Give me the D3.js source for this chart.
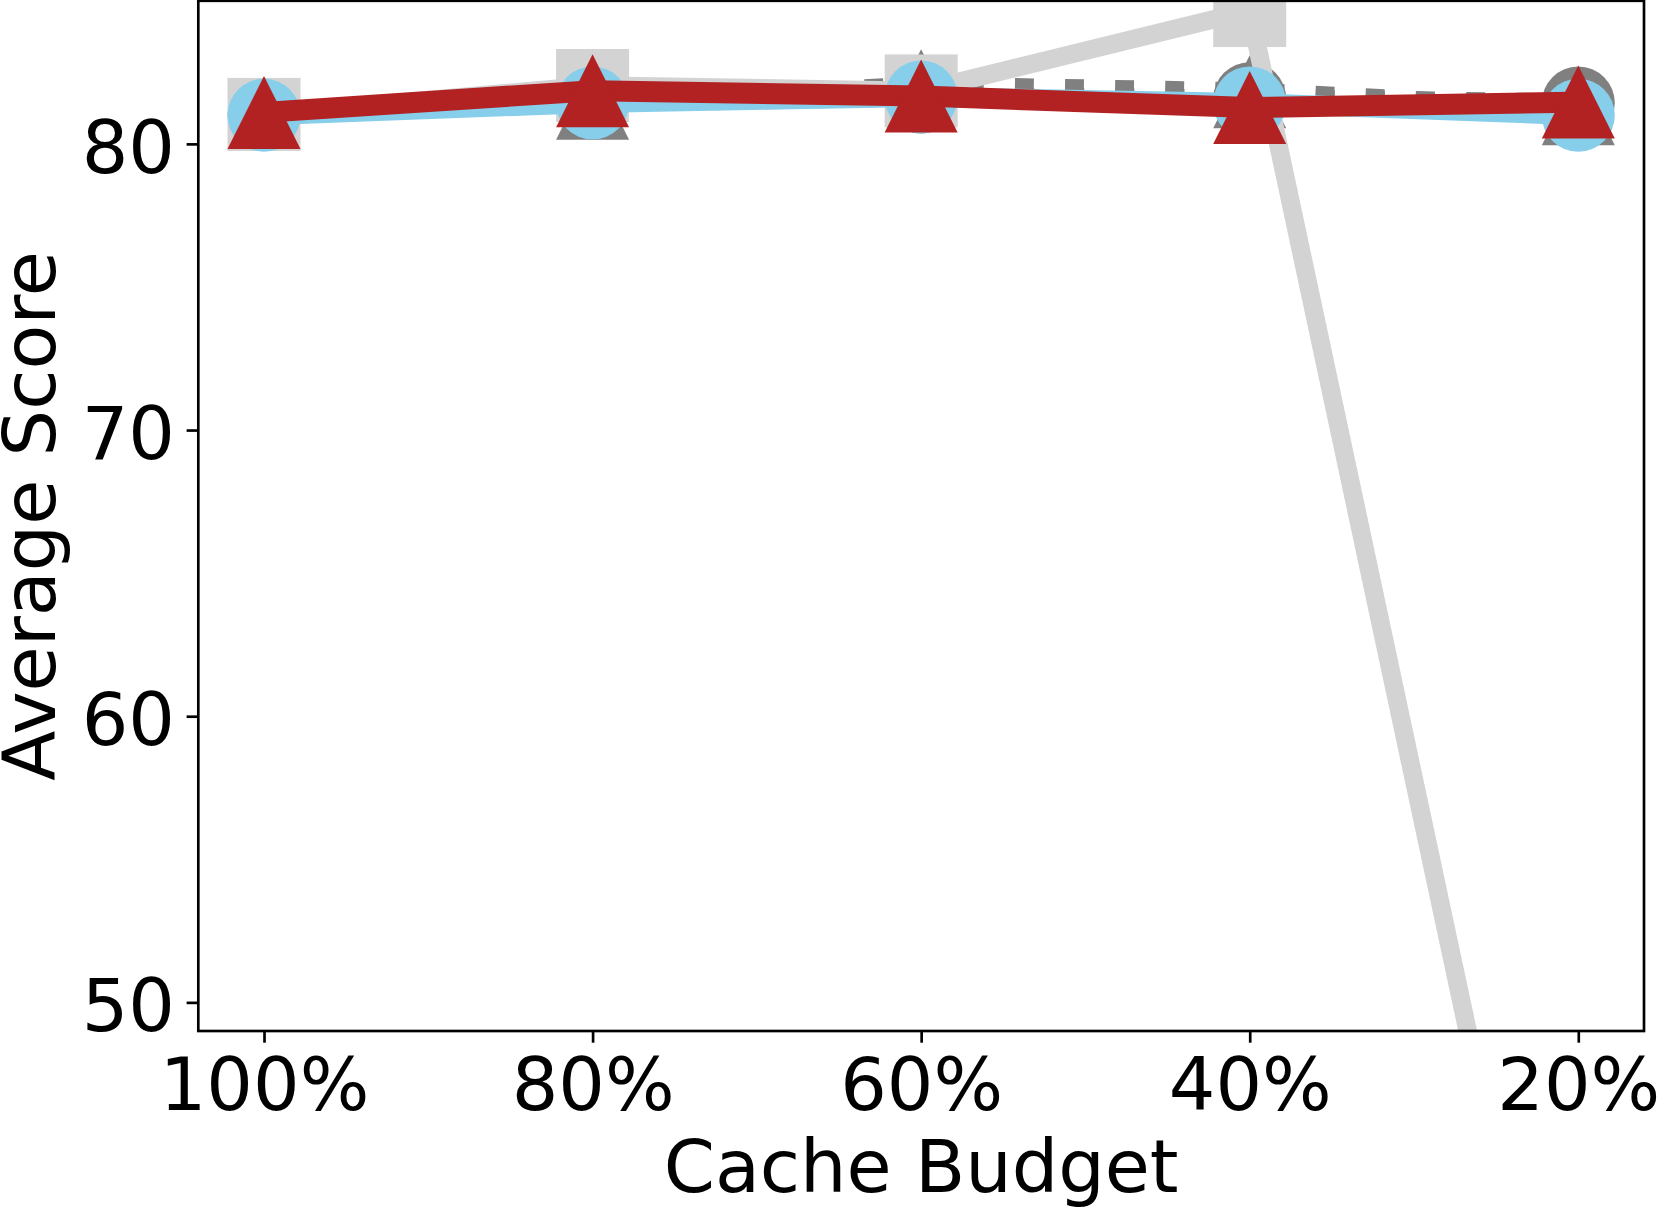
<!DOCTYPE html>
<html>
<head>
<meta charset="utf-8">
<script src="https://cdn.jsdelivr.net/npm/d3@7"></script>
<style>
  html, body { margin: 0; padding: 0; background: #ffffff; }
  svg { display: block; }
  text { font-family: "DejaVu Sans", sans-serif; fill: #000; }
</style>
</head>
<body>
<svg id="chart" width="1659" height="1207"></svg>
<script>
// ---- data ----
const budgets = ["100%", "80%", "60%", "40%", "20%"];
const yTickValues = [50, 60, 70, 80];
const lightGrayScores = [81.03, 82.04, 81.85, 84.66, 30.9];
const grayTriangleScores = [81.05, 81.42, 82.03, 81.82, 81.23];
const grayCircleScores = [81.03, 81.43, 81.64, 81.58, 81.43];
const skyBlueScores = [81.0, 81.43, 81.64, 81.43, 81.0];
const redScores = [81.1, 81.86, 81.67, 81.27, 81.46];

(function () {
// ---- layout ----
const W = 1659, H = 1207;
const axLeft = 198.3, axRight = 1644, axTop = 0.8, axBottom = 1031;
const svg = d3.select("#chart");
svg.append("rect").attr("width", W).attr("height", H).attr("fill", "#fff");

const x = d3.scaleLinear().domain([-0.2, budgets.length - 1 + 0.2]).range([axLeft, axRight]);
const y = d3.scaleLinear().domain([49, 85]).range([axBottom, axTop]);

svg.append("defs").append("clipPath").attr("id", "axclip")
  .append("rect").attr("x", axLeft).attr("y", axTop).attr("width", axRight - axLeft).attr("height", axBottom - axTop);

const series = [
  { values: grayTriangleScores, color: "#808080", lw: 18.9, dash: "18.9,31.2", marker: "triangle" },
  { values: grayCircleScores, color: "#808080", lw: 18.9, dash: "18.9,31.2", marker: "circle" },
  { values: lightGrayScores, color: "#d3d3d3", lw: 18.5, dash: null, marker: "square" },
  { values: skyBlueScores, color: "#87ceeb", lw: 20, dash: null, marker: "circle" },
  { values: redScores, color: "#b22222", lw: 21, dash: null, marker: "triangle" }
];

const ms = 73;
const plot = svg.append("g").attr("clip-path", "url(#axclip)");
const line = d3.line().x((d, i) => x(i)).y(d => y(d));

series.forEach(s => {
  const g = plot.append("g");
  g.append("path")
    .attr("d", line(s.values))
    .attr("fill", "none")
    .attr("stroke", s.color)
    .attr("stroke-width", s.lw)
    .attr("stroke-linejoin", "round")
    .attr("stroke-linecap", s.dash ? "butt" : "square")
    .attr("stroke-dasharray", s.dash);
  s.values.forEach((v, i) => {
    const cx = x(i), cy = y(v);
    if (s.marker === "circle") {
      g.append("circle").attr("cx", cx).attr("cy", cy).attr("r", ms / 2).attr("fill", s.color);
    } else if (s.marker === "square") {
      g.append("rect").attr("x", cx - ms / 2).attr("y", cy - ms / 2)
        .attr("width", ms).attr("height", ms).attr("fill", s.color);
    } else {
      const h = ms / 2;
      g.append("path")
        .attr("d", `M${cx},${cy - h}L${cx - h},${cy + h}L${cx + h},${cy + h}Z`)
        .attr("fill", s.color);
    }
  });
});

// ---- axes ----
const xAxis = d3.axisBottom(x)
  .tickValues(d3.range(budgets.length))
  .tickFormat(i => budgets[i])
  .tickSize(11.7).tickPadding(11.7);
const gx = svg.append("g").attr("transform", `translate(0,${axBottom})`).call(xAxis);
gx.select(".domain").remove();
gx.selectAll(".tick line").attr("stroke", "#000").attr("stroke-width", 2.67);
gx.selectAll(".tick text").attr("font-size", 73.3).attr("dy", null)
  .attr("y", 79).attr("fill", "#000").attr("font-family", "DejaVu Sans");

const yAxis = d3.axisLeft(y).tickValues(yTickValues).tickFormat(d3.format("d"))
  .tickSize(11.7).tickPadding(11.7);
const gy = svg.append("g").attr("transform", `translate(${axLeft},0)`).call(yAxis);
gy.select(".domain").remove();
gy.selectAll(".tick line").attr("stroke", "#000").attr("stroke-width", 2.67);
gy.selectAll(".tick text").attr("font-size", 73.3).attr("dy", null)
  .attr("y", 28.5).attr("x", -23.4).attr("fill", "#000").attr("font-family", "DejaVu Sans");

// frame
svg.append("rect").attr("x", axLeft).attr("y", axTop).attr("width", axRight - axLeft).attr("height", axBottom - axTop)
  .attr("fill", "none").attr("stroke", "#000").attr("stroke-width", 2.67);

// labels
svg.append("text").attr("x", (axLeft + axRight) / 2).attr("y", 1191.5)
  .attr("text-anchor", "middle").attr("font-size", 73.3).text("Cache Budget");
svg.append("text").attr("transform", `translate(55,${(axTop + axBottom) / 2}) rotate(-90)`)
  .attr("text-anchor", "middle").attr("font-size", 73.3).text("Average Score");
})();
</script>
</body>
</html>
